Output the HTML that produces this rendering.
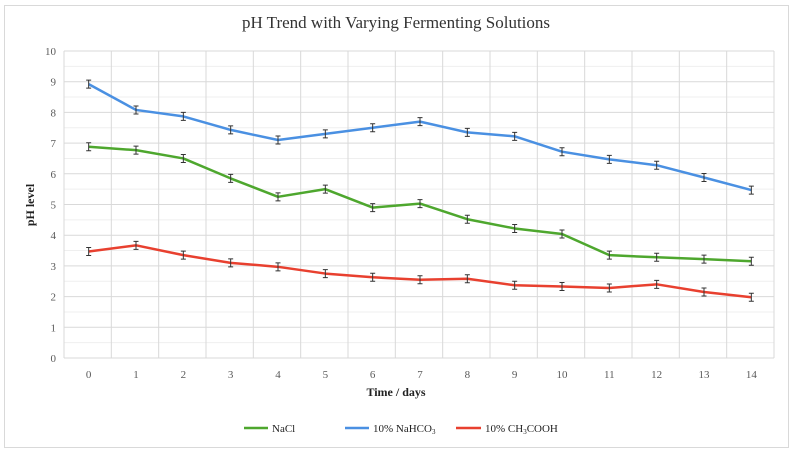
<!DOCTYPE html>
<html><head><meta charset="utf-8"><style>body{margin:0;background:#fff}svg{display:block}</style></head><body>
<svg width="793" height="452" xmlns="http://www.w3.org/2000/svg" font-family="Liberation Serif, serif">
<rect x="4.5" y="5.5" width="784" height="442" fill="#fff" stroke="#d9d9d9"/>
<text x="396" y="28" text-anchor="middle" font-size="17" fill="#333">pH Trend with Varying Fermenting Solutions</text>
<g id="grid"></g>
<g id="labels" font-size="11" fill="#595959"></g>
<text x="396" y="396" text-anchor="middle" font-size="12" font-weight="bold" fill="#222">Time / days</text>
<text transform="translate(34,205) rotate(-90)" text-anchor="middle" font-size="12" font-weight="bold" fill="#222">pH level</text>
<g id="series"></g>
<g font-size="11" fill="#222">
<line x1="244" y1="428" x2="268" y2="428" stroke="#4ea72e" stroke-width="2.5"/><text x="272" y="432">NaCl</text>
<line x1="345" y1="428" x2="369" y2="428" stroke="#4a90e2" stroke-width="2.5"/><text x="373" y="432">10% NaHCO<tspan font-size="7" dy="2">3</tspan></text>
<line x1="456" y1="428" x2="481" y2="428" stroke="#e8402f" stroke-width="2.5"/><text x="485" y="432">10% CH<tspan font-size="7" dy="2">3</tspan><tspan dy="-2">COOH</tspan></text>
</g>
</svg>
<script>
const ns="http://www.w3.org/2000/svg";
const L=64,R=774,T=51,B=358,cw=(R-L)/15,uh=(B-T)/10;
const g=document.getElementById('grid'),lb=document.getElementById('labels'),s=document.getElementById('series');
function el(p,t,a,txt){const e=document.createElementNS(ns,t);for(const k in a)e.setAttribute(k,a[k]);if(txt!=null)e.textContent=txt;p.appendChild(e);return e;}
for(let i=0;i<20;i++){const y=B-i*uh/2;if(i%2)el(g,'line',{x1:L,x2:R,y1:y,y2:y,stroke:'#efefef'});}
for(let i=0;i<=10;i++){const y=B-i*uh;el(g,'line',{x1:L,x2:R,y1:y,y2:y,stroke:'#d9d9d9'});el(lb,'text',{x:L-8,y:y+4,'text-anchor':'end'},i);}
for(let i=0;i<=15;i++){const x=L+i*cw;el(g,'line',{x1:x,x2:x,y1:T,y2:B,stroke:'#d9d9d9'});}
for(let i=0;i<15;i++)el(lb,'text',{x:L+(i+.5)*cw+1,y:B+20,'text-anchor':'middle'},i);
const D=[["#4ea72e",[6.88,6.77,6.5,5.85,5.25,5.5,4.9,5.03,4.52,4.22,4.04,3.35,3.28,3.22,3.15]],
["#4a90e2",[8.92,8.08,7.87,7.43,7.1,7.3,7.5,7.7,7.35,7.22,6.72,6.47,6.28,5.88,5.47]],
["#e8402f",[3.47,3.67,3.35,3.1,2.97,2.75,2.63,2.55,2.58,2.37,2.33,2.28,2.4,2.15,1.98]]];
for(const [c,v] of D){const pts=v.map((y,i)=>[L+(i+.5)*cw+1,B-y*uh]);
el(s,'polyline',{points:pts.map(p=>p.join(',')).join(' '),fill:'none',stroke:c,'stroke-width':2.5,'stroke-linejoin':'round'});
for(const [x,y] of pts){el(s,'path',{d:`M${x},${y-4}V${y+4}M${x-2.5},${y-4}h5M${x-2.5},${y+4}h5`,stroke:'#333','stroke-width':1,fill:'none'});}}
</script>
</body></html>
